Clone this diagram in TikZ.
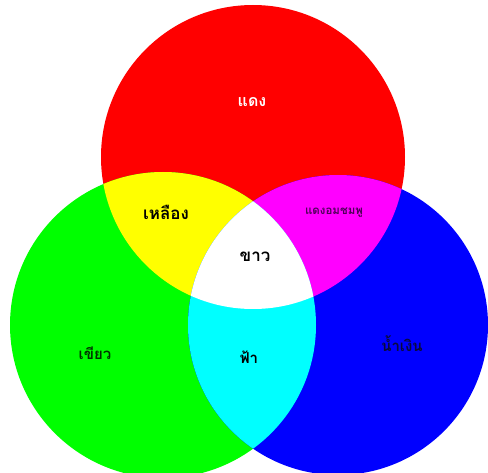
\documentclass[tikz,border=0pt]{standalone}
\usepackage{fontspec}
\newfontfamily\thaifont[Script=Thai]{Loma}
\usetikzlibrary{positioning}
\definecolor{luzRoja}{RGB}{255, 0, 0}
\definecolor{luzVerde}{RGB}{0, 255, 0}
\definecolor{luzAzul}{RGB}{0, 0, 255}
\definecolor{luzAmarilla}{RGB}{255, 255, 0}
\definecolor{luzMagenta}{RGB}{255, 0, 255}
\definecolor{luzCian}{RGB}{0, 255, 255}
\definecolor{textoMorado}{RGB}{80, 0, 90}
\definecolor{textoVerde}{RGB}{0, 50, 0}
\definecolor{textoAzul}{RGB}{10, 10, 60}

\begin{document}
\begin{tikzpicture}[x=1pt, y=-1pt,
            etiqueta/.style={font=\thaifont\bfseries\fontsize{17}{19}\selectfont, inner sep=1pt},
            chica/.style={font=\thaifont\bfseries\fontsize{11.5}{13}\selectfont, inner sep=1pt}]
            \useasboundingbox (0,0) rectangle (488,473);

            % circulos primarios
            \fill[luzRoja] (253,157) circle[radius=152];
            \fill[luzVerde] (163,325) circle[radius=153];
            \fill[luzAzul] (338,325) circle[radius=150];

            % mezclas de dos
            \begin{scope}
                \clip (253,157) circle[radius=152];
                \fill[luzAmarilla] (163,325) circle[radius=153];
                \fill[luzMagenta] (338,325) circle[radius=150];
            \end{scope}
            \begin{scope}
                \clip (163,325) circle[radius=153];
                \fill[luzCian] (338,325) circle[radius=150];
                % mezcla de tres
                \clip (338,325) circle[radius=150];
                \fill[white] (253,157) circle[radius=152];
            \end{scope}

            \node[etiqueta, text=white, font=\thaifont\bfseries\fontsize{16}{18}\selectfont] (daeng) at (252,102) {แดง};
            \node[etiqueta] (lueang) at (166,212) {เหลือง};
            \node[chica, text=textoMorado] (daengom) at (334,213) {แดงอมชมพู};
            \node[etiqueta] (khao) at (255,257) {ขาว};
            \node[etiqueta, text=textoVerde, font=\thaifont\bfseries\fontsize{15}{17}\selectfont] (khiao) at (95,353) {เขียว};
            \node[etiqueta, font=\thaifont\bfseries\fontsize{15}{17}\selectfont] (fa) at (249,357) {ฟ้า};
            \node[etiqueta, text=textoAzul, font=\thaifont\bfseries\fontsize{15}{17}\selectfont] (namngoen) at (402,344) {น้ำเงิน};
        \end{tikzpicture}
\end{document}
